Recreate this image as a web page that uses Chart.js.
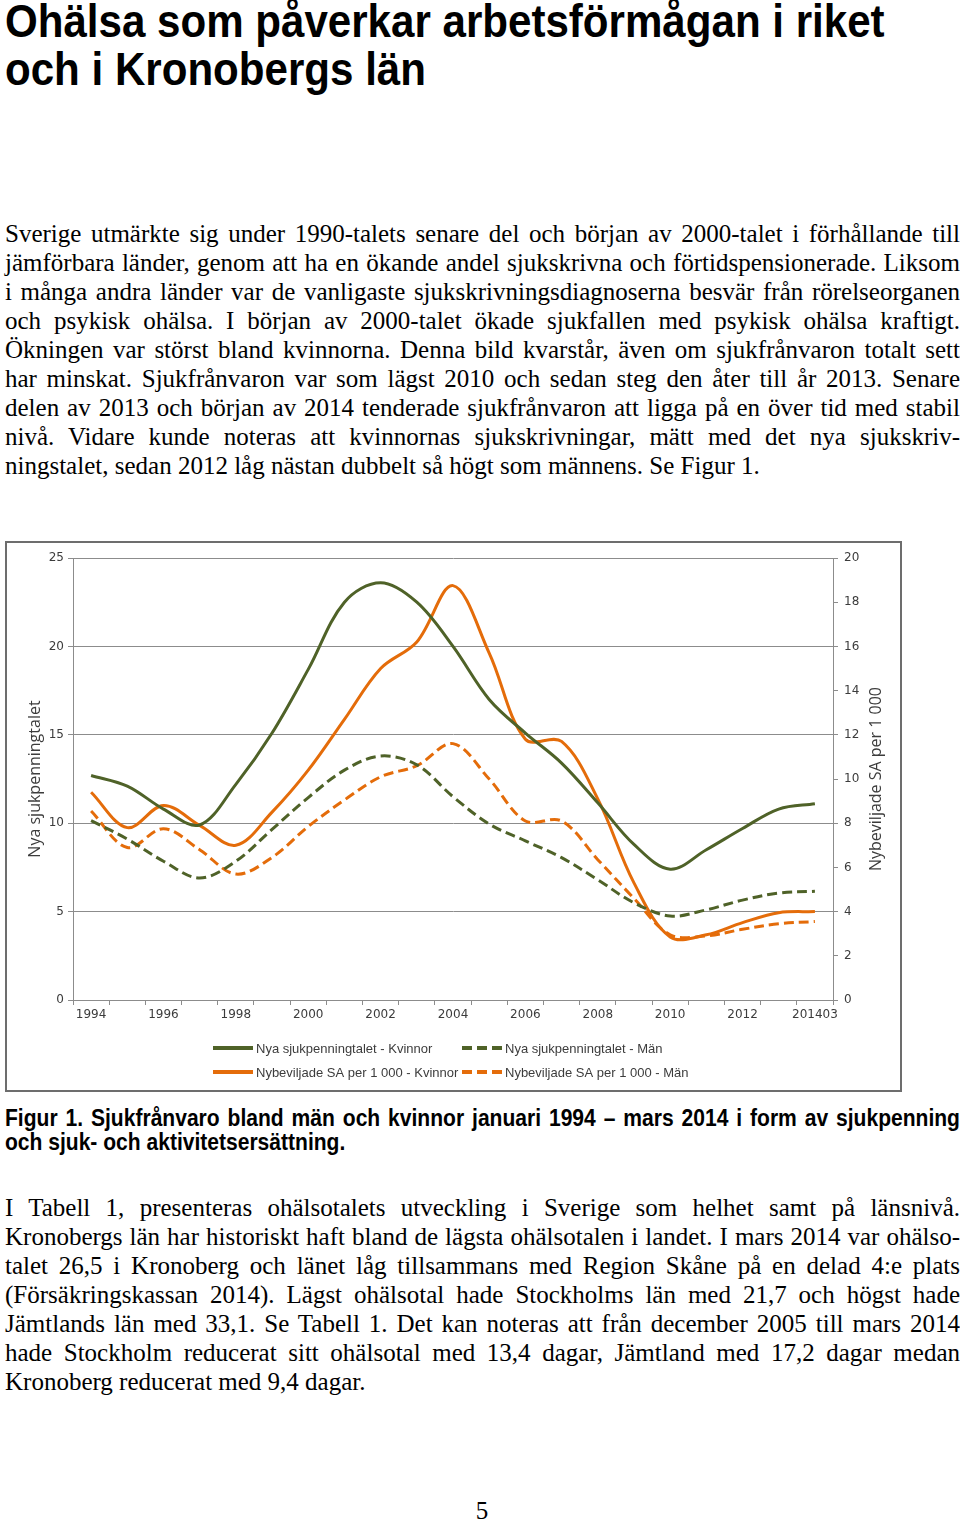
<!DOCTYPE html>
<html lang="sv">
<head>
<meta charset="utf-8">
<title>Ohälsa som påverkar arbetsförmågan</title>
<script src="https://cdn.jsdelivr.net/npm/chart.js@4/dist/chart.umd.min.js"></script>
<style>
  body { margin: 0; background: #fff; }
  #page { position: relative; width: 960px; height: 1519px; overflow: hidden; color: #000; }
  .title {
    position: absolute; left: 5px; top: -3px;
    font: bold 46px/48px "Liberation Sans", Arial, sans-serif;
    transform: scaleX(0.915); transform-origin: 0 0; white-space: nowrap;
  }
  .para { position: absolute; left: 5px; width: 955px; font: 25px/29px "Liberation Serif", "Times New Roman", serif; }
  .para div { text-align: justify; text-align-last: justify; }
  .para div.last { text-align-last: left; }
  .caption {
    position: absolute; left: 5px; top: 1106px; width: 1043.7px;
    font: bold 23px/24px "Liberation Sans", Arial, sans-serif;
    transform: scaleX(0.915); transform-origin: 0 0;
  }
  .caption div { text-align: justify; text-align-last: justify; }
  .caption div.last { text-align-last: left; }
  #box { position: absolute; left: 5px; top: 541px; width: 897px; height: 551px; box-sizing: border-box; border: 2px solid #6d6d6d; }
  #box canvas { display: block; }
  .pnum { position: absolute; left: 0; width: 964px; top: 1496px; text-align: center; font: 25px/29px "Liberation Serif", serif; }
</style>
</head>
<body>
<div id="page">
  <div class="title">Ohälsa som påverkar arbetsförmågan i riket<br>och i Kronobergs län</div>

  <div class="para" style="top:219px">
    <div>Sverige utmärkte sig under 1990-talets senare del och början av 2000-talet i förhållande till</div>
    <div>jämförbara länder, genom att ha en ökande andel sjukskrivna och förtidspensionerade. Liksom</div>
    <div>i många andra länder var de vanligaste sjukskrivningsdiagnoserna besvär från rörelseorganen</div>
    <div>och psykisk ohälsa. I början av 2000-talet ökade sjukfallen med psykisk ohälsa kraftigt.</div>
    <div>Ökningen var störst bland kvinnorna. Denna bild kvarstår, även om sjukfrånvaron totalt sett</div>
    <div>har minskat. Sjukfrånvaron var som lägst 2010 och sedan steg den åter till år 2013. Senare</div>
    <div>delen av 2013 och början av 2014 tenderade sjukfrånvaron att ligga på en över tid med stabil</div>
    <div>nivå. Vidare kunde noteras att kvinnornas sjukskrivningar, mätt med det nya sjukskriv-</div>
    <div class="last">ningstalet, sedan 2012 låg nästan dubbelt så högt som männens. Se Figur 1.</div>
  </div>

  <div id="box"><canvas id="chart" width="893" height="547"></canvas></div>

  <div class="caption">
    <div>Figur 1. Sjukfrånvaro bland män och kvinnor januari 1994 – mars 2014 i form av sjukpenning</div>
    <div class="last">och sjuk- och aktivitetsersättning.</div>
  </div>

  <div class="para" style="top:1193px">
    <div>I Tabell 1, presenteras ohälsotalets utveckling i Sverige som helhet samt på länsnivå.</div>
    <div>Kronobergs län har historiskt haft bland de lägsta ohälsotalen i landet. I mars 2014 var ohälso-</div>
    <div>talet 26,5 i Kronoberg och länet låg tillsammans med Region Skåne på en delad 4:e plats</div>
    <div>(Försäkringskassan 2014). Lägst ohälsotal hade Stockholms län med 21,7 och högst hade</div>
    <div>Jämtlands län med 33,1. Se Tabell 1. Det kan noteras att från december 2005 till mars 2014</div>
    <div>hade Stockholm reducerat sitt ohälsotal med 13,4 dagar, Jämtland med 17,2 dagar medan</div>
    <div class="last">Kronoberg reducerat med 9,4 dagar.</div>
  </div>

  <div class="pnum">5</div>
</div>

<script>
const years = ['1994', '1995', '1996', '1997', '1998', '1999', '2000', '2001', '2002', '2003',
  '2004', '2005', '2006', '2007', '2008', '2009', '2010', '2011', '2012', '2013', '201403'];

// Nya sjukpenningtalet (vänster axel)
const nyaKvinnor = [12.7, 12.1, 10.8, 9.9, 12.2, 15.1, 18.7, 22.5, 23.6, 22.5,
  20.0, 17.0, 15.1, 13.4, 11.15, 8.8, 7.4, 8.5, 9.7, 10.8, 11.1];
const nyaMan = [10.15, 9.1, 7.85, 6.9, 7.85, 9.65, 11.45, 13.0, 13.8, 13.3,
  11.5, 9.95, 9.0, 8.05, 6.8, 5.5, 4.75, 5.1, 5.65, 6.05, 6.15];

// Nybeviljade SA per 1 000 (höger axel)
const saKvinnor = [9.4, 7.8, 8.8, 7.9, 7.0, 8.5, 10.4, 12.7, 15.0, 16.2,
  18.75, 15.7, 11.8, 11.7, 9.1, 5.3, 2.85, 2.95, 3.5, 3.95, 4.0];
const saMan = [8.55, 6.9, 7.75, 6.8, 5.7, 6.45, 7.85, 9.05, 10.1, 10.6,
  11.6, 10.0, 8.1, 8.1, 6.35, 4.6, 2.95, 2.9, 3.2, 3.45, 3.55];

const leftTicks = { min: 0, max: 25, step: 5 };
const rightTicks = { min: 0, max: 20, step: 2 };

const green = '#4f6228';
const orange = '#e46c0a';
const gridColor = '#8c8c8c';
const textColor = '#3c3c3c';
const tickFont = { family: 'DejaVu Sans', size: 12 };
const titleFont = '16px "Open Sans", sans-serif';

const line = (label, data, color, dashed, axis) => ({
  label,
  data,
  yAxisID: axis,
  borderColor: color,
  backgroundColor: color,
  borderWidth: 3,
  borderDash: dashed ? [10, 5] : [],
  pointRadius: 0,
  tension: 0.35,
  fill: false,
});

// right title reads upwards and the legend sits in two columns, so both are drawn here
const extras = {
  id: 'extras',
  afterDraw(chart, args, opts) {
    const { ctx, chartArea } = chart;
    ctx.save();
    ctx.fillStyle = textColor;
    ctx.font = titleFont;
    ctx.textAlign = 'center';
    ctx.textBaseline = 'middle';
    ctx.translate(opts.rightTitleX, (chartArea.top + chartArea.bottom) / 2);
    ctx.rotate(-Math.PI / 2);
    ctx.fillText(opts.rightTitle, 0, 0);
    ctx.restore();

    ctx.save();
    ctx.font = opts.legendFont;
    ctx.textBaseline = 'middle';
    chart.data.datasets.forEach((ds, i) => {
      const x = opts.legendX[i % 2];
      const y = opts.legendY[Math.floor(i / 2)];
      ctx.strokeStyle = ds.borderColor;
      ctx.lineWidth = 4;
      ctx.setLineDash(ds.borderDash.length ? [10, 5] : []);
      ctx.beginPath();
      ctx.moveTo(x, y);
      ctx.lineTo(x + 40, y);
      ctx.stroke();
      ctx.fillStyle = textColor;
      ctx.fillText(ds.label, x + 43, y + 1);
    });
    ctx.restore();
  },
};

new Chart(document.getElementById('chart'), {
  type: 'line',
  data: {
    labels: years,
    datasets: [
      line('Nya sjukpenningtalet - Kvinnor', nyaKvinnor, green, false, 'y'),
      line('Nya sjukpenningtalet - Män', nyaMan, green, true, 'y'),
      line('Nybeviljade SA per 1 000 - Kvinnor', saKvinnor, orange, false, 'y1'),
      line('Nybeviljade SA per 1 000 - Män', saMan, orange, true, 'y1'),
    ],
  },
  options: {
    responsive: false,
    animation: false,
    devicePixelRatio: 1,
    layout: { padding: { top: 15, bottom: 60, left: 0, right: 0 } },
    plugins: {
      legend: { display: false },
      tooltip: { enabled: false },
      extras: {
        rightTitle: 'Nybeviljade SA per 1 000',
        rightTitleX: 869,
        legendX: [206, 455],
        legendY: [505, 529],
        legendFont: '13px "Liberation Sans", sans-serif',
      },
    },
    scales: {
      x: {
        type: 'category',
        offset: true,
        afterFit: (s) => { s.height = 30; },
        grid: { display: true, drawOnChartArea: false, offset: true, tickLength: 5, color: gridColor },
        border: { display: true, color: gridColor },
        ticks: {
          autoSkip: false,
          maxRotation: 0,
          padding: 3,
          color: textColor,
          font: tickFont,
          callback: (v, i) => (i % 2 === 0 ? years[i] : ''),
        },
      },
      y: {
        position: 'left',
        min: leftTicks.min,
        max: leftTicks.max,
        afterFit: (s) => { s.width = 66; },
        grid: { color: gridColor, tickLength: 5 },
        border: { display: true, color: gridColor },
        ticks: { stepSize: leftTicks.step, padding: 4, color: textColor, font: tickFont },
        title: {
          display: true,
          text: 'Nya sjukpenningtalet',
          color: textColor,
          font: { family: 'Open Sans', size: 16 },
          padding: { top: 19, bottom: 0 },
        },
      },
      y1: {
        position: 'right',
        min: rightTicks.min,
        max: rightTicks.max,
        afterFit: (s) => { s.width = 67; },
        grid: { drawOnChartArea: false, color: gridColor, tickLength: 5 },
        border: { display: true, color: gridColor },
        ticks: { stepSize: rightTicks.step, padding: 6, color: textColor, font: tickFont },
      },
    },
  },
  plugins: [extras],
});
</script>
</body>
</html>
